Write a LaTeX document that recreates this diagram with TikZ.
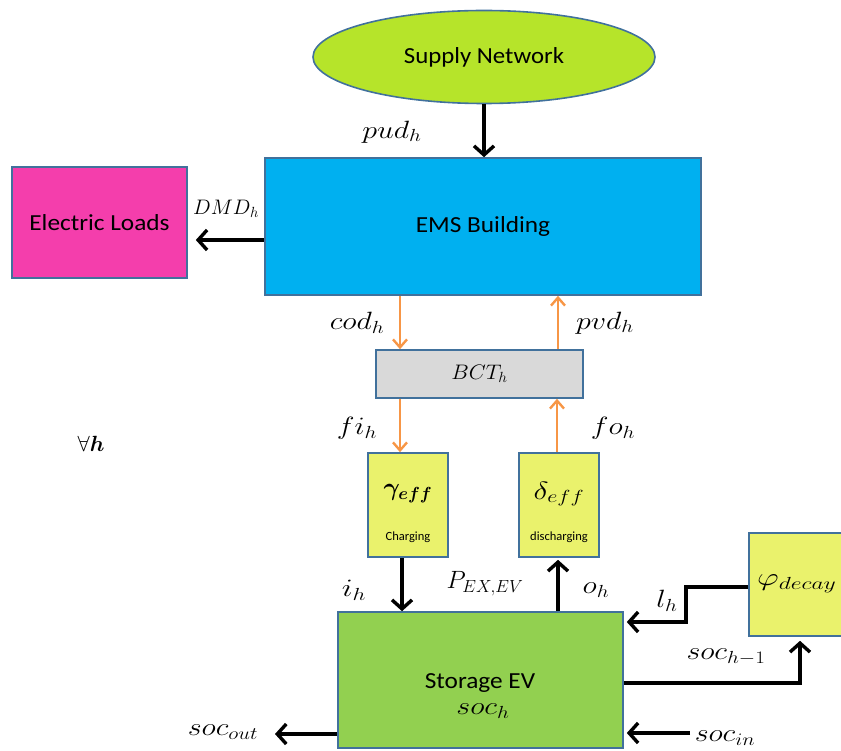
\RequirePackage{fix-cm}
\documentclass[tikz,border=0pt]{standalone}
\usepackage{amsmath}
\usepackage{bm}
\usepackage{fontspec}
\setmainfont{Carlito}
\usetikzlibrary{arrows.meta,shapes.geometric}
\definecolor{bord}{RGB}{65,113,156}
\definecolor{ellcol}{RGB}{182,228,42}
\definecolor{emscol}{RGB}{0,176,240}
\definecolor{loadcol}{RGB}{244,62,172}
\definecolor{bctcol}{RGB}{217,217,217}
\definecolor{effcol}{RGB}{234,242,108}
\definecolor{stcol}{RGB}{146,208,80}
\definecolor{orng}{RGB}{247,150,70}
\newcommand{\sx}[2][1.2]{\scalebox{#1}[1]{#2}}
\tikzset{
  box/.style={draw=bord, line width=1.6pt, rectangle, inner sep=0pt},
  blk/.style={line width=3.4pt, black, -{Straight Barb[length=9pt,width=20pt,line width=3.4pt]}},
  org/.style={line width=2.4pt, orng, -{Straight Barb[length=8pt,width=14pt,line width=2.4pt]}},
  lbl/.style={inner sep=0pt, font=\fontsize{25}{30}\selectfont},
  mlbl/.style={inner sep=0pt, font=\fontsize{21}{25}\selectfont},
  btxt/.style={font=\fontsize{23}{28}\selectfont},
  stxt/.style={inner sep=0pt, font=\fontsize{12.5}{15}\selectfont},
}
\begin{document}
\begin{tikzpicture}[x=1pt,y=-1pt]
\useasboundingbox (0,0) rectangle (841,751);
% nodes
\node[ellipse, draw=bord, line width=1.6pt, fill=ellcol, minimum width=342pt, minimum height=93pt, inner sep=0pt, btxt] (sup) at (484,57) {\sx[1.08]{Supply Network}};
\node[box, fill=emscol, minimum width=436pt, minimum height=137pt, btxt] (ems) at (483,226.5) {\sx[1.1]{EMS Building}};
\node[box, fill=loadcol, minimum width=175pt, minimum height=111pt, btxt] (loads) at (99.5,222.5) {\sx[1.1]{Electric Loads}};
\node[box, fill=bctcol, minimum width=207pt, minimum height=48pt, mlbl] (bct) at (479.5,374) {\sx[1.05]{$BCT_h$}};
\node[box, fill=effcol, minimum width=80pt, minimum height=104pt] (gam) at (408,505) {};
\node[box, fill=effcol, minimum width=80pt, minimum height=104pt] (del) at (559,505) {};
\node[box, fill=stcol, minimum width=285pt, minimum height=136pt] (st) at (480.5,680) {};
\node[box, fill=effcol, minimum width=106pt, minimum height=103pt] (phi) at (802,584.5) {};
% inner texts
\node[inner sep=0pt, font=\fontsize{25}{30}\selectfont] (gamt) at (408,494) {$\bm{\gamma_{eff}}$};
\node[stxt] (gamc) at (408,537) {Charging};
\node[lbl] (delt) at (559,494) {\sx[1.27]{$\delta_{eff}$}};
\node[stxt] (delc) at (559,537) {discharging};
\node[lbl, anchor=west] (phit) at (757,584) {\sx[1.35]{$\varphi_{decay}$}};
\node[inner sep=0pt, btxt] (stt) at (480,683) {\sx[1.1]{Storage EV}};
\node[lbl] (sts) at (483,711) {\sx{$soc_h$}};
% coordinates
\coordinate (lb1) at (686,587);
\coordinate (lb2) at (686,622);
\coordinate (sh) at (800,683);
\coordinate (sin) at (690,733);
\coordinate (sout) at (275,734);
% connectors
\draw[blk] (sup.south) -- (sup.south |- ems.north);
\draw[blk, shorten >=8pt] (ems.west |- 0,240) -- (loads.east |- 0,240);
\draw[org] (ems.south -| 400,0) -- (bct.north -| 400,0);
\draw[org] (bct.north -| 558,0) -- (ems.south -| 558,0);
\draw[org] (bct.south -| 400,0) -- (gam.north -| 400,0);
\draw[org] (del.north -| 557,0) -- (bct.south -| 557,0);
\draw[blk] (gam.south -| 402,0) -- (st.north -| 402,0);
\draw[blk, shorten >=2pt] (st.north -| 558,0) -- (del.south -| 558,0);
\draw[blk, line join=miter, shorten >=3pt] (phi.west |- lb1) -- (lb1) -- (lb2) -- (st.east |- lb2);
\draw[blk, line join=miter, shorten >=4pt] (st.east |- sh) -- (sh) -- (phi.south -| sh);
\draw[blk, shorten >=3pt] (sin) -- (st.east |- sin);
\draw[blk] (st.west |- sout) -- (sout);
% labels
\node[lbl] (lpud) at (392,132) {\sx{$pud_h$}};
\node[mlbl] (ldmd) at (226,209) {$DMD_h$};
\node[lbl] (lcod) at (357,323) {\sx{$cod_h$}};
\node[lbl] (lpvd) at (605,323) {\sx{$pvd_h$}};
\node[lbl] (lfi) at (357,428) {\sx{$fi_h$}};
\node[lbl] (lfo) at (613,428) {\sx{$fo_h$}};
\node[lbl] (li) at (354,590) {\sx[1.3]{$i_h$}};
\node[inner sep=0pt, font=\fontsize{25}{30}\selectfont] (lpex) at (485,584) {$P_{EX,EV}$};
\node[lbl] (lo) at (596,590) {\sx[1.2]{$o_h$}};
\node[lbl] (ll) at (667,601) {\sx{$l_h$}};
\node[lbl] (lsh) at (726,657) {\sx{$soc_{h-1}$}};
\node[lbl] (lsin) at (725,738) {\sx{$soc_{in}$}};
\node[lbl] (lsout) at (223,732) {\sx{$soc_{out}$}};
\node[inner sep=0pt, font=\fontsize{22}{26}\selectfont] (lall) at (91,444) {$\forall\bm{h}$};
\end{tikzpicture}
\end{document}
